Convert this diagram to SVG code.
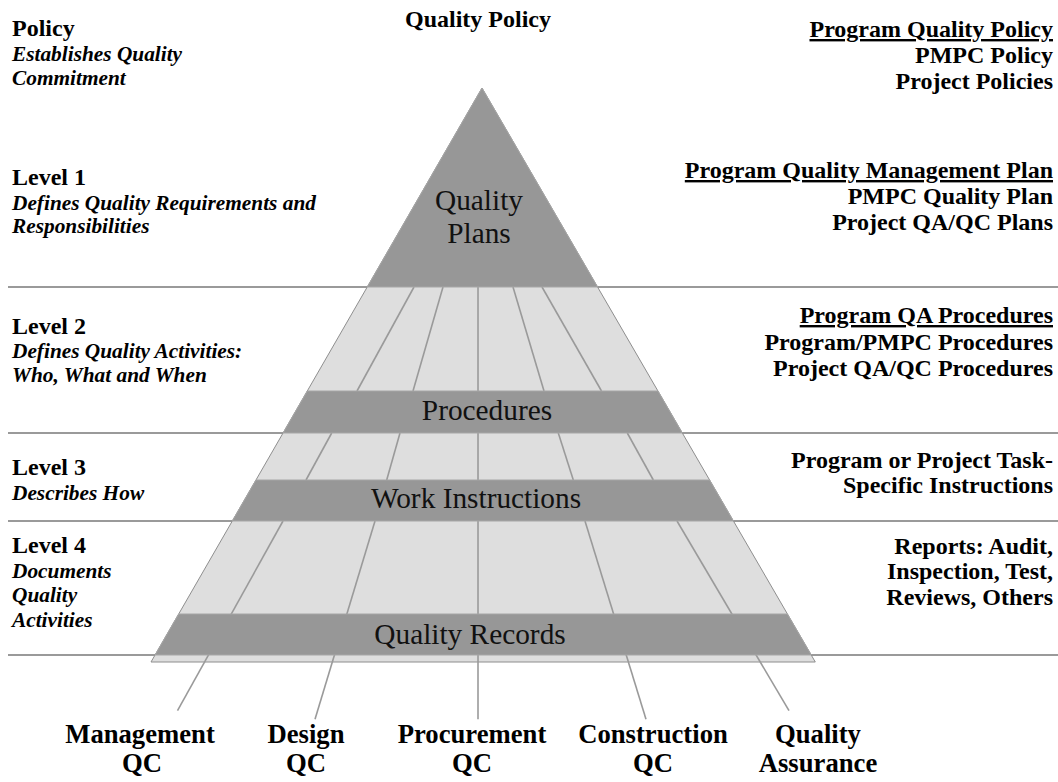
<svg xmlns="http://www.w3.org/2000/svg" width="1058" height="782" viewBox="0 0 1058 782">
  <style>
    .sep { stroke: #9a9a9a; stroke-width: 2; fill: none; }
    .light { fill: #dedede; stroke: #8e8e8e; stroke-width: 1; }
    .dark { fill: #979797; stroke: #a6a6a6; stroke-width: 1; }
    .div { stroke: #9a9a9a; stroke-width: 1.6; fill: none; }
    .inner { font-family: "Liberation Serif", "Times New Roman", serif; font-size: 29.33px; fill: #111; text-anchor: middle; }
    .head { font-family: "Liberation Serif", "Times New Roman", serif; font-size: 24px; font-weight: bold; fill: #000; }
    .desc { font-family: "Liberation Serif", "Times New Roman", serif; font-size: 21.33px; font-weight: bold; font-style: italic; fill: #000; }
    .right { font-family: "Liberation Serif", "Times New Roman", serif; font-size: 24px; font-weight: bold; fill: #000; text-anchor: end; }
    .ul { text-decoration: underline; }
    .dept { font-family: "Liberation Serif", "Times New Roman", serif; font-size: 26.67px; font-weight: bold; fill: #000; text-anchor: middle; }
  </style>

  <rect x="0" y="0" width="1058" height="782" fill="#ffffff"/>

  <!-- level separators, drawn behind the pyramid -->
  <g id="separators">
    <line class="sep" x1="8" y1="287" x2="1058" y2="287"/>
    <line class="sep" x1="8" y1="433" x2="1058" y2="433"/>
    <line class="sep" x1="8" y1="521" x2="1058" y2="521"/>
    <line class="sep" x1="8" y1="655" x2="1058" y2="655"/>
  </g>

  <!-- pyramid body (light) -->
  <g id="pyramid">
    <polygon class="light" points="482,88 151,662 815.3,662"/>
  </g>

  <!-- divider lines inside the light tiers; level-4 dividers run on down to the departments -->
  <g id="connectors">
    <line class="div" x1="414" y1="287" x2="357" y2="391"/>
    <line class="div" x1="443" y1="287" x2="413" y2="391"/>
    <line class="div" x1="478" y1="287" x2="478" y2="391"/>
    <line class="div" x1="513" y1="287" x2="544" y2="391"/>
    <line class="div" x1="542" y1="287" x2="601.5" y2="391"/>

    <line class="div" x1="331.7" y1="433" x2="306" y2="480"/>
    <line class="div" x1="400" y1="433" x2="386.7" y2="480"/>
    <line class="div" x1="478" y1="433" x2="478" y2="480"/>
    <line class="div" x1="558.3" y1="433" x2="573.3" y2="480"/>
    <line class="div" x1="627.3" y1="433" x2="653.3" y2="480"/>

    <line class="div" x1="283" y1="521" x2="177.5" y2="710.7"/>
    <line class="div" x1="375" y1="521" x2="315" y2="719.3"/>
    <line class="div" x1="478" y1="521" x2="478" y2="719.3"/>
    <line class="div" x1="585" y1="521" x2="646" y2="719.3"/>
    <line class="div" x1="677" y1="521" x2="789" y2="710.7"/>
  </g>

  <!-- dark tiers: top triangle and the three named bands -->
  <g id="node-plans">
    <polygon class="dark" points="482,88 367.3,287 597.6,287"/>
    <text class="inner" x="479" y="210">Quality</text>
    <text class="inner" x="479" y="243">Plans</text>
  </g>
  <g id="node-procedures">
    <polygon class="dark" points="307.3,391 658,391 682.3,433 283.1,433"/>
    <text class="inner" x="487" y="420">Procedures</text>
  </g>
  <g id="node-work-instructions">
    <polygon class="dark" points="256,480 709.6,480 733.4,521 232.3,521"/>
    <text class="inner" x="476" y="508">Work Instructions</text>
  </g>
  <g id="node-records">
    <polygon class="dark" points="178.7,614 787.4,614 811.3,655 155.1,655"/>
    <text class="inner" x="470" y="644">Quality Records</text>
  </g>

  <!-- title over the apex -->
  <g id="title">
    <text class="head" x="478" y="27" text-anchor="middle">Quality Policy</text>
  </g>

  <!-- left column: level descriptions -->
  <g id="level-policy">
    <text class="head" x="12" y="36">Policy</text>
    <text class="desc" x="12" y="61">Establishes Quality</text>
    <text class="desc" x="12" y="85">Commitment</text>
  </g>
  <g id="level-1">
    <text class="head" x="12" y="185">Level 1</text>
    <text class="desc" x="12" y="210">Defines Quality Requirements and</text>
    <text class="desc" x="12" y="233">Responsibilities</text>
  </g>
  <g id="level-2">
    <text class="head" x="12" y="334">Level 2</text>
    <text class="desc" x="12" y="358">Defines Quality Activities:</text>
    <text class="desc" x="12" y="382">Who, What and When</text>
  </g>
  <g id="level-3">
    <text class="head" x="12" y="475">Level 3</text>
    <text class="desc" x="12" y="500">Describes How</text>
  </g>
  <g id="level-4">
    <text class="head" x="12" y="553">Level 4</text>
    <text class="desc" x="12" y="578">Documents</text>
    <text class="desc" x="12" y="602">Quality</text>
    <text class="desc" x="12" y="627">Activities</text>
  </g>

  <!-- right column: documents per level -->
  <g id="docs-policy">
    <text class="right ul" x="1053" y="37">Program Quality Policy</text>
    <text class="right" x="1053" y="63">PMPC Policy</text>
    <text class="right" x="1053" y="89">Project Policies</text>
  </g>
  <g id="docs-level-1">
    <text class="right ul" x="1053" y="178">Program Quality Management Plan</text>
    <text class="right" x="1053" y="204">PMPC Quality Plan</text>
    <text class="right" x="1053" y="230">Project QA/QC Plans</text>
  </g>
  <g id="docs-level-2">
    <text class="right ul" x="1053" y="323">Program QA Procedures</text>
    <text class="right" x="1053" y="350">Program/PMPC Procedures</text>
    <text class="right" x="1053" y="376">Project QA/QC Procedures</text>
  </g>
  <g id="docs-level-3">
    <text class="right" x="1053" y="468">Program or Project Task-</text>
    <text class="right" x="1053" y="493">Specific Instructions</text>
  </g>
  <g id="docs-level-4">
    <text class="right" x="1053" y="554">Reports: Audit,</text>
    <text class="right" x="1053" y="579">Inspection, Test,</text>
    <text class="right" x="1053" y="605">Reviews, Others</text>
  </g>

  <!-- departments under the base -->
  <g id="dept-management">
    <text class="dept" x="140" y="743">Management</text>
    <text class="dept" x="142" y="772">QC</text>
  </g>
  <g id="dept-design">
    <text class="dept" x="306" y="743">Design</text>
    <text class="dept" x="306" y="772">QC</text>
  </g>
  <g id="dept-procurement">
    <text class="dept" x="472" y="743">Procurement</text>
    <text class="dept" x="472" y="772">QC</text>
  </g>
  <g id="dept-construction">
    <text class="dept" x="653" y="743">Construction</text>
    <text class="dept" x="653" y="772">QC</text>
  </g>
  <g id="dept-qa">
    <text class="dept" x="818" y="743">Quality</text>
    <text class="dept" x="818" y="772">Assurance</text>
  </g>
</svg>
